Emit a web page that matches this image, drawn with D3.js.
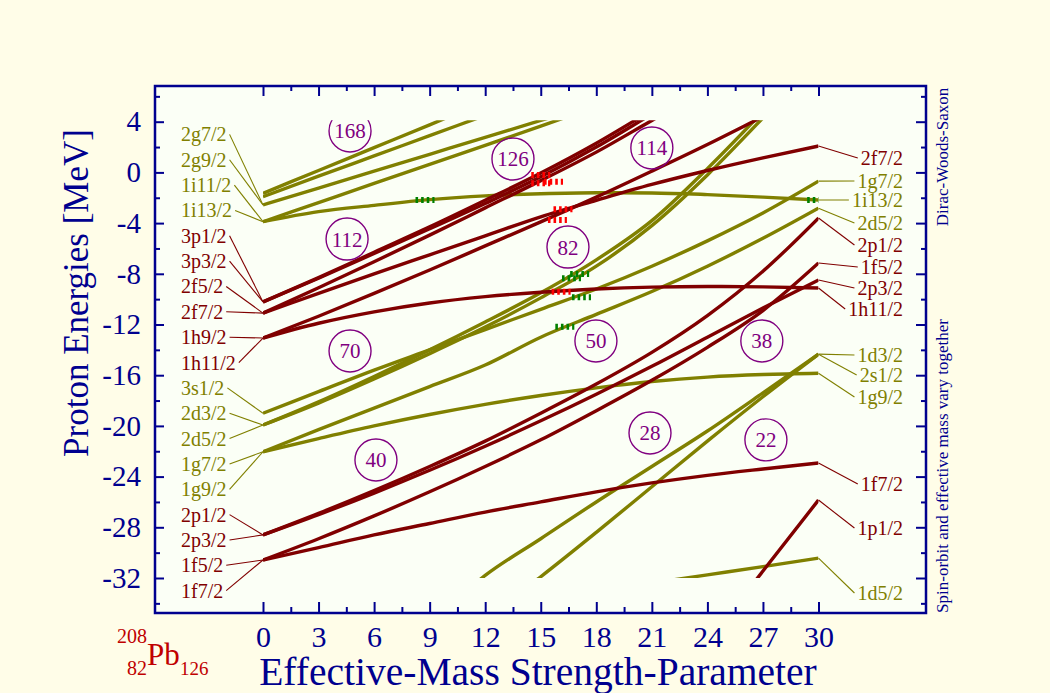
<!DOCTYPE html>
<html><head><meta charset="utf-8">
<script src="https://cdn.jsdelivr.net/npm/d3@7"></script>
<style>
body{margin:0;background:#fffde8;}
svg{display:block;}
text{font-family:"Liberation Serif","Times New Roman",serif;}
</style>
</head><body>
<svg id="c" width="1050" height="693"></svg>
<script>
// ---------------- DATA ----------------
const paramGrid = [0,3,6,9,12,15,18,21,24,27,30];
const xTickValues = [0,3,6,9,12,15,18,21,24,27,30];
const yTickValues = [4,0,-4,-8,-12,-16,-20,-24,-28,-32];

// each level: energy (MeV) at paramGrid
const seriesNames = ["oA","oB","oC","oD","1i13/2","steep1","steep2","1g7/2","2d5/2","1g9/2","bot1","bot2","1d5/2",
                     "3pA","3pB","2fA","2f7/2","1h9/2","1h11/2","2p1/2","2p3/2","1f5/2","1f7/2","1p1/2"];
const seriesParity = ["even","even","even","even","even","even","even","even","even","even","even","even","even",
                      "odd","odd","odd","odd","odd","odd","odd","odd","odd","odd","odd"];
const seriesValues = [
  [-1.65,0.15,1.95,3.75,5.6,7.4,9.2,11,12.8,14.6,16.4],
  [-1.92,-0.3,1.3,2.9,4.5,6.1,7.7,9.3,10.9,12.5,14.1],
  [-2.57,-1.24,0.1,1.43,2.76,4.1,5.4,6.7,8,9.3,10.6],
  [-3.89,-2.38,-0.87,0.63,2.14,3.65,5.2,6.7,8.2,9.7,11.2],
  [-3.89,-3.1,-2.6,-2.15,-1.85,-1.68,-1.6,-1.62,-1.75,-1.95,-2.18],
  [-19.93,-18.2,-16.3,-14.3,-12.2,-9.9,-7.4,-4.2,-0.2,4.3,9],
  [-19.93,-18.1,-16.1,-14.0,-11.8,-9.5,-6.9,-3.8,0.3,4.8,9.5],
  [-19.0,-17.3,-15.6,-14.0,-12.4,-10.8,-9.2,-7.4,-5.4,-3.2,-0.69],
  [-22.04,-20.3,-18.6,-16.9,-15.2,-13.0,-11.2,-9.4,-7.4,-5.2,-2.82],
  [-22.04,-21.0,-20.0,-19.1,-18.3,-17.6,-17.0,-16.5,-16.15,-15.95,-15.85],
  [-48,-44,-40,-35.6,-31.8,-28.9,-26.0,-23.2,-20.4,-17.4,-14.34],
  [-55,-50,-45,-40,-35.2,-31.9,-28.4,-24.8,-21.2,-17.7,-14.34],
  [-36.5,-36,-35.5,-35,-34.4,-33.8,-33.1,-32.4,-31.75,-31.1,-30.43],
  [-10.22,-8.3,-6.3,-4.3,-2.2,-0.05,2.3,4.9,7.5,10,12.5],
  [-10.22,-8.35,-6.4,-4.45,-2.45,-0.35,2.0,4.6,7.2,9.8,12.3],
  [-11.1,-9.1,-7.05,-4.95,-2.8,-0.65,1.6,4.1,6.6,9.1,11.6],
  [-11.1,-9.55,-8.0,-6.5,-5.0,-3.5,-2.2,-0.95,0.15,1.15,2.08],
  [-13.07,-11.35,-9.55,-7.7,-5.8,-3.9,-1.95,0.1,2.2,4.4,6.6],
  [-13.07,-11.9,-11.0,-10.3,-9.8,-9.45,-9.2,-9.05,-9.0,-9.03,-9.12],
  [-28.6,-26.9,-25.1,-23.2,-21.2,-19.0,-16.7,-14.2,-11.3,-7.8,-3.6],
  [-28.6,-27.0,-25.3,-23.5,-21.6,-19.6,-17.5,-15.3,-13.0,-10.7,-8.49],
  [-30.58,-28.9,-27.1,-25.2,-23.2,-21.1,-18.8,-16.4,-13.8,-10.9,-7.15],
  [-30.58,-29.6,-28.6,-27.7,-26.8,-26.0,-25.2,-24.5,-23.9,-23.4,-22.93],
  [-81.9,-76.3,-70.7,-65.1,-59.5,-53.9,-48.3,-42.7,-37.1,-31.45,-25.85]
];

const leftLabels  = ["2g7/2","2g9/2","1i11/2","1i13/2","3p1/2","3p3/2","2f5/2","2f7/2","1h9/2","1h11/2",
                     "3s1/2","2d3/2","2d5/2","1g7/2","1g9/2","2p1/2","2p3/2","1f5/2","1f7/2"];
const leftTargetE = [-2.57,-2.57,-3.89,-3.89,-10.22,-10.22,-11.1,-11.1,-13.07,-13.07,
                     -19.0,-19.93,-19.93,-22.04,-22.04,-28.6,-28.6,-30.58,-30.58];
const rightLabels  = ["2f7/2","1g7/2","1i13/2","2d5/2","2p1/2","1f5/2","2p3/2","1h11/2",
                      "1d3/2","2s1/2","1g9/2","1f7/2","1p1/2","1d5/2"];
const rightTargetE = [2.08,-0.69,-2.18,-2.82,-3.6,-7.15,-8.49,-9.12,-14.34,-14.34,-15.85,-22.93,-25.85,-30.43];

const magicNumbers = [168,126,114,112,82,70,50,38,40,28,22];
const magicParam   = [4.7,13.5,21.0,4.54,16.47,4.7,17.98,26.94,6.1,20.9,27.16];
const magicE       = [3.27,1.06,1.93,-5.26,-5.89,-14.09,-13.3,-13.3,-22.69,-20.56,-21.1];

const redMarkParam   = [15.0,15.0,15.69,16.2,15.9,16.1];
const redMarkE       = [-0.2,-0.86,-0.73,-2.91,-3.76,-9.41];
const greenMarkParam = [8.75,16.66,17.1,17.2,16.3,29.9];
const greenMarkE     = [-2.18,-8.36,-8.02,-9.85,-12.17,-2.18];

// ---------------- LAYOUT ----------------
const COL = {odd:"#800000", even:"#808000", axis:"#00008f", magic:"#800080"};
const frame = {x0:155, x1:926, y0:86, y1:613};
const rightLabelY = [158,181,200,223,245,267,288,309,355,375,397,484,528,593];
const leftLabelX = 181, rightLabelX = 903;

const svg = d3.select("#c");
const x = d3.scaleLinear().domain([0,30]).range([263,818.5]);
const y = d3.scaleLinear().domain([4,-32]).range([121.7,578]);

svg.append("rect").attr("width",1050).attr("height",693).attr("fill","#fffde8");
svg.append("rect").attr("x",frame.x0).attr("y",frame.y0)
   .attr("width",frame.x1-frame.x0).attr("height",frame.y1-frame.y0).attr("fill","#fbfff6");

const defs = svg.append("defs");
defs.append("clipPath").attr("id","plotclip").append("rect")
  .attr("x",x(0)).attr("y",y(4)-1.5).attr("width",x(30)-x(0)).attr("height",y(-32)-y(4)+1.5);

// levels
const line = d3.line().x((d,i)=>x(paramGrid[i])).y(d=>y(d)).curve(d3.curveMonotoneX);
const gl = svg.append("g").attr("clip-path","url(#plotclip)");
seriesValues.forEach((vals,k)=>{
  gl.append("path").attr("d",line(vals)).attr("fill","none")
    .attr("stroke",COL[seriesParity[k]]).attr("stroke-width",3.4).attr("stroke-linejoin","round");
});

// markers
function markers(px,pe,color){
  px.forEach((p,i)=>{
    gl.append("line").attr("x1",x(p)-9.5).attr("x2",x(p)+9.5).attr("y1",y(pe[i])).attr("y2",y(pe[i]))
      .attr("stroke",color).attr("stroke-width",6).attr("stroke-dasharray","2.6,3");
  });
}
markers(redMarkParam,redMarkE,"#ff0000");
markers(greenMarkParam,greenMarkE,"#008000");

// magic numbers (clipped to plot window like the reference)
magicNumbers.forEach((m,i)=>{
  gl.append("ellipse").attr("cx",x(magicParam[i])).attr("cy",y(magicE[i])).attr("rx",21).attr("ry",21)
    .attr("fill","none").attr("stroke",COL.magic).attr("stroke-width",1.4);
  gl.append("text").attr("x",x(magicParam[i])).attr("y",y(magicE[i])+7.5).attr("text-anchor","middle")
    .attr("font-size",21).attr("fill",COL.magic).text(m);
});

function parityOf(lbl){ const c=lbl.replace(/[0-9\/]/g,""); return "pfhj".includes(c)?"odd":"even"; }

// left labels
leftLabels.forEach((lbl,i)=>{
  const ly = y(3-2*i);
  const t = svg.append("text").attr("x",leftLabelX).attr("y",ly+7).attr("font-size",20)
    .attr("fill",COL[parityOf(lbl)]).text(lbl);
  const bb = t.node().getBBox();
  svg.append("line").attr("x1",bb.x+bb.width+3).attr("y1",ly).attr("x2",x(0)).attr("y2",y(leftTargetE[i]))
    .attr("stroke",COL[parityOf(lbl)]).attr("stroke-width",1.1);
});
// right labels
rightLabels.forEach((lbl,i)=>{
  const ly = rightLabelY[i];
  const t = svg.append("text").attr("x",rightLabelX).attr("y",ly+7).attr("font-size",20).attr("text-anchor","end")
    .attr("fill",COL[parityOf(lbl)]).text(lbl);
  const bb = t.node().getBBox();
  svg.append("line").attr("x1",x(30)).attr("y1",y(rightTargetE[i])).attr("x2",bb.x-3).attr("y2",ly)
    .attr("stroke",COL[parityOf(lbl)]).attr("stroke-width",1.1);
});

// frame
svg.append("rect").attr("x",frame.x0).attr("y",frame.y0)
   .attr("width",frame.x1-frame.x0).attr("height",frame.y1-frame.y0)
   .attr("fill","none").attr("stroke",COL.axis).attr("stroke-width",2.5);

// axes ticks
const xMinor = d3.range(1.5,30,3);
function styleAx(g){ g.select(".domain").remove(); g.selectAll("line").attr("stroke",COL.axis).attr("stroke-width",2); g.selectAll("text").remove(); }
svg.append("g").attr("transform",`translate(0,${frame.y1})`).call(d3.axisTop(x).tickValues(xTickValues).tickSize(11)).call(styleAx);
svg.append("g").attr("transform",`translate(0,${frame.y1})`).call(d3.axisTop(x).tickValues(xMinor).tickSize(6)).call(styleAx);
svg.append("g").attr("transform",`translate(0,${frame.y0})`).call(d3.axisBottom(x).tickValues(xTickValues).tickSize(10)).call(styleAx);
svg.append("g").attr("transform",`translate(0,${frame.y0})`).call(d3.axisBottom(x).tickValues(xMinor).tickSize(5)).call(styleAx);
const yMinorVals = [6,2,-2,-6,-10,-14,-18,-22,-26,-30,-34].filter(v=>y(v)>frame.y0&&y(v)<frame.y1);
svg.append("g").attr("transform",`translate(${frame.x0},0)`).call(d3.axisRight(y).tickValues(yTickValues).tickSize(9)).call(styleAx);
svg.append("g").attr("transform",`translate(${frame.x0},0)`).call(d3.axisRight(y).tickValues(yMinorVals).tickSize(5)).call(styleAx);
svg.append("g").attr("transform",`translate(${frame.x1},0)`).call(d3.axisLeft(y).tickValues(yTickValues).tickSize(10)).call(styleAx);
svg.append("g").attr("transform",`translate(${frame.x1},0)`).call(d3.axisLeft(y).tickValues(yMinorVals).tickSize(5)).call(styleAx);

// tick labels (plain hyphen minus as in the reference)
const fmt = d => String(d);
const xl = svg.append("g").attr("transform",`translate(0,${frame.y1})`)
  .call(d3.axisBottom(x).tickValues(xTickValues).tickSize(0).tickPadding(13).tickFormat(fmt));
xl.select(".domain").remove();
xl.selectAll("text").attr("font-size",30).attr("fill",COL.axis).attr("font-family","Liberation Serif");
const yl = svg.append("g").attr("transform",`translate(${frame.x0},0)`)
  .call(d3.axisLeft(y).tickValues(yTickValues).tickSize(0).tickPadding(14).tickFormat(fmt));
yl.select(".domain").remove();
yl.selectAll("text").attr("font-size",29).attr("fill",COL.axis).attr("font-family","Liberation Serif");

// axis titles
svg.append("text").attr("x",538).attr("y",685).attr("text-anchor","middle").attr("font-size",39.5)
  .attr("fill",COL.axis).text("Effective-Mass Strength-Parameter");
svg.append("text").attr("transform","translate(88,293) rotate(-90)").attr("text-anchor","middle")
  .attr("font-size",35).attr("fill",COL.axis).text("Proton Energies [MeV]");
svg.append("text").attr("transform","translate(948,157) rotate(-90)").attr("text-anchor","middle")
  .attr("font-size",17).attr("fill",COL.axis).text("Dirac-Woods-Saxon");
svg.append("text").attr("transform","translate(948,466) rotate(-90)").attr("text-anchor","middle")
  .attr("font-size",17).attr("fill",COL.axis).text("Spin-orbit and effective mass vary together");

// nucleus label
const pb = svg.append("g").attr("fill","#c00000");
pb.append("text").attr("x",147).attr("y",643).attr("font-size",20).attr("text-anchor","end").text("208");
pb.append("text").attr("x",147).attr("y",675).attr("font-size",20).attr("text-anchor","end").text("82");
pb.append("text").attr("x",147).attr("y",665).attr("font-size",31).text("Pb");
pb.append("text").attr("x",180).attr("y",675).attr("font-size",19).text("126");
</script>
</body></html>
